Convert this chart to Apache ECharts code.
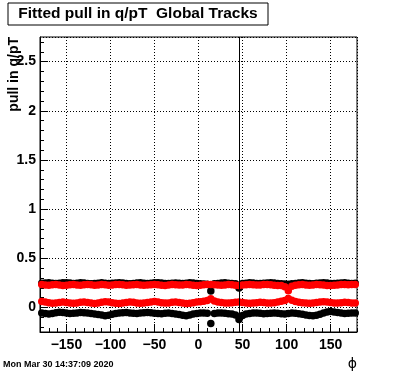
<!DOCTYPE html>
<html>
<head>
<meta charset="utf-8">
<script src="https://cdn.jsdelivr.net/npm/echarts@6/dist/echarts.min.js"></script>
<style>
  html, body { margin: 0; padding: 0; background: #fff; }
  #chart { width: 396px; height: 372px; }
</style>
</head>
<body>
<div id="chart"></div>
<script>
// phi bin centres (deg)
const phi = [
  -178, -174, -170, -166, -162, -158, -154, -150, -146, -142,
  -138, -134, -130, -126, -122, -118, -114, -110, -106, -102,
  -98, -94, -90, -86, -82, -78, -74, -70, -66, -62,
  -58, -54, -50, -46, -42, -38, -34, -30, -26, -22,
  -18, -14, -10, -6, -2, 2, 6, 10, 14, 18,
  22, 26, 30, 34, 38, 42, 46, 50, 54, 58,
  62, 66, 70, 74, 78, 82, 86, 90, 94, 98,
  102, 106, 110, 114, 118, 122, 126, 130, 134, 138,
  142, 146, 150, 154, 158, 162, 166, 170, 174, 178
]

// lower black points
const blackLow = [
  -0.057, -0.062, -0.067, -0.062, -0.054, -0.05, -0.052, -0.057, -0.062, -0.06,
  -0.056, -0.052, -0.054, -0.058, -0.062, -0.067, -0.072, -0.077, -0.084, -0.08,
  -0.07, -0.062, -0.057, -0.054, -0.052, -0.056, -0.06, -0.062, -0.058, -0.054,
  -0.052, -0.055, -0.059, -0.062, -0.064, -0.06, -0.057, -0.062, -0.067, -0.072,
  -0.08, -0.084, -0.077, -0.067, -0.062, -0.058, -0.056, -0.06, -0.163, -0.062,
  -0.058, -0.056, -0.06, -0.064, -0.068, -0.077, -0.122, -0.082, -0.067, -0.062,
  -0.058, -0.056, -0.06, -0.064, -0.062, -0.059, -0.057, -0.06, -0.064, -0.067,
  -0.062, -0.058, -0.06, -0.064, -0.07, -0.076, -0.082, -0.084, -0.08, -0.07,
  -0.057, -0.047, -0.042, -0.046, -0.052, -0.057, -0.062, -0.06, -0.056, -0.057
]

// lower red points
const redLow = [
  0.06, 0.055, 0.048, 0.042, 0.045, 0.05, 0.055, 0.05, 0.045, 0.042,
  0.046, 0.052, 0.056, 0.05, 0.044, 0.04, 0.045, 0.052, 0.058, 0.055,
  0.048, 0.042, 0.04, 0.044, 0.05, 0.055, 0.052, 0.046, 0.042, 0.045,
  0.05, 0.056, 0.06, 0.055, 0.048, 0.044, 0.046, 0.052, 0.056, 0.05,
  0.044, 0.04, 0.042, 0.048, 0.054, 0.058, 0.062, 0.07, 0.088, 0.065,
  0.055, 0.05, 0.046, 0.044, 0.048, 0.052, 0.055, 0.05, 0.045, 0.042,
  0.044, 0.048, 0.052, 0.05, 0.046, 0.044, 0.048, 0.055, 0.062, 0.07,
  0.09, 0.072, 0.06, 0.052, 0.048, 0.045, 0.042, 0.045, 0.05, 0.055,
  0.058, 0.055, 0.05, 0.046, 0.044, 0.048, 0.052, 0.05, 0.046, 0.045
]

// upper red points
const redHigh = [
  0.232, 0.228, 0.225, 0.23, 0.234, 0.228, 0.222, 0.226, 0.23, 0.232,
  0.228, 0.225, 0.23, 0.233, 0.23, 0.226, 0.228, 0.232, 0.23, 0.226,
  0.228, 0.232, 0.234, 0.23, 0.226, 0.228, 0.231, 0.233, 0.229, 0.225,
  0.228, 0.231, 0.234, 0.23, 0.226, 0.224, 0.228, 0.232, 0.23, 0.227,
  0.229, 0.232, 0.23, 0.226, 0.222, 0.225, 0.23, 0.232, 0.234, 0.23,
  0.228, 0.225, 0.228, 0.232, 0.23, 0.226, 0.224, 0.228, 0.231, 0.233,
  0.23, 0.227, 0.229, 0.232, 0.234, 0.23, 0.226, 0.224, 0.222, 0.21,
  0.17, 0.215, 0.226, 0.23, 0.232, 0.228, 0.225, 0.228, 0.232, 0.23,
  0.227, 0.224, 0.222, 0.225, 0.228, 0.232, 0.234, 0.23, 0.232, 0.234
]

// upper black points (mostly hidden under the red ones)
const blackHigh = [
  0.245, 0.248, 0.25, 0.246, 0.242, 0.245, 0.25, 0.252, 0.248, 0.244,
  0.246, 0.25, 0.248, 0.244, 0.24, 0.243, 0.247, 0.25, 0.246, 0.242,
  0.245, 0.249, 0.252, 0.248, 0.244, 0.241, 0.244, 0.248, 0.25, 0.247,
  0.243, 0.246, 0.25, 0.252, 0.248, 0.244, 0.242, 0.245, 0.249, 0.246,
  0.243, 0.247, 0.25, 0.248, 0.244, 0.24, 0.238, 0.236, 0.166, 0.24,
  0.244, 0.248, 0.25, 0.247, 0.243, 0.24, 0.197, 0.242, 0.246, 0.25,
  0.248, 0.244, 0.242, 0.245, 0.249, 0.252, 0.248, 0.244, 0.241, 0.238,
  0.236, 0.24, 0.244, 0.248, 0.25, 0.247, 0.243, 0.241, 0.245, 0.249,
  0.251, 0.248, 0.244, 0.242, 0.245, 0.248, 0.25, 0.247, 0.244, 0.246
]

const cutPhi = 46

const yMinorTicks = []
for (let k = -2; k <= 27; k++) yMinorTicks.push(k / 10)

const FONT = 'Liberation Sans'

function pairs(vals){
  return vals.map((v, i) => [phi[i], v])
}

function points(name, vals, color){
  return {
    name: name,
    type: 'scatter',
    silent: true,
    symbol: 'circle',
    symbolSize: 7.5,
    itemStyle: { color: color, opacity: 1 },
    data: pairs(vals)
  }
}

var myChart = echarts.init(document.getElementById('chart'), null, { renderer: 'canvas' })

const dotted = { color: '#000', width: 1, type: [1, 2] }

const option = {
  animation: false,
  backgroundColor: '#fff',
  grid: {
    left: 40,
    right: 39,
    top: 37,
    bottom: 40,
    show: true,
    borderColor: '#000',
    borderWidth: 1,
    outerBoundsMode: 'none'
  },
  xAxis: [
    {
      type: 'value',
      min: -180,
      max: 180,
      splitNumber: 7,
      minInterval: 50,
      maxInterval: 50,
      axisLine: { show: true, onZero: false, lineStyle: { color: '#000', width: 1 } },
      axisTick: { show: true, inside: true, length: 8, lineStyle: { color: '#000' } },
      axisLabel: {
        show: true,
        margin: 6,
        showMinLabel: false,
        showMaxLabel: false,
        color: '#000',
        fontFamily: FONT,
        fontWeight: 'bold',
        fontSize: 14,
        formatter(v){
          return String(v).replace('-', '\u2212')
        }
      },
      splitLine: { show: true, lineStyle: dotted }
    },
    {
      type: 'value',
      min: -180,
      max: 180,
      interval: 10,
      position: 'bottom',
      axisLine: { show: false, onZero: false },
      axisTick: { show: true, inside: true, length: 4, lineStyle: { color: '#000' } },
      axisLabel: { show: false },
      splitLine: { show: false }
    }
  ],
  yAxis: [
    {
      type: 'value',
      min: -0.25,
      max: 2.75,
      splitNumber: 6,
      minInterval: 0.5,
      maxInterval: 0.5,
      axisLine: { show: true, onZero: false, lineStyle: { color: '#000', width: 1 } },
      axisTick: { show: true, inside: true, length: 8, lineStyle: { color: '#000' } },
      axisLabel: {
        show: true,
        margin: 4,
        showMinLabel: false,
        showMaxLabel: false,
        color: '#000',
        fontFamily: FONT,
        fontWeight: 'bold',
        fontSize: 14
      },
      splitLine: { show: true, lineStyle: dotted }
    },
    {
      type: 'value',
      min: -0.25,
      max: 2.75,
      position: 'left',
      axisLine: { show: false, onZero: false },
      axisTick: { show: true, inside: true, length: 4, customValues: yMinorTicks, lineStyle: { color: '#000' } },
      axisLabel: { show: false },
      splitLine: { show: false }
    }
  ],
  series: [
    Object.assign(points('black high', blackHigh, '#000'), {
      markLine: {
        silent: true,
        symbol: ['none', 'none'],
        label: { show: false },
        lineStyle: { color: '#000', type: 'solid', width: 1 },
        data: [{ xAxis: cutPhi }]
      }
    }),
    points('red high', redHigh, '#ff0000'),
    points('black low', blackLow, '#000'),
    points('red low', redLow, '#ff0000')
  ],
  graphic: [
    {
      type: 'rect',
      shape: { x: 8, y: 3, width: 260, height: 22 },
      style: { fill: '#fff', stroke: '#000', lineWidth: 1 },
      z: 100
    },
    {
      type: 'text',
      x: 138,
      y: 14,
      z: 101,
      style: {
        text: 'Fitted pull in q/pT  Global Tracks',
        font: 'bold 15.5px "Liberation Sans"',
        fill: '#000',
        align: 'center',
        verticalAlign: 'middle'
      }
    },
    {
      type: 'text',
      x: 14,
      y: 37,
      rotation: Math.PI / 2,
      z: 101,
      style: {
        text: 'pull in q/pT',
        font: 'bold 14px "Liberation Sans"',
        fill: '#000',
        align: 'right',
        verticalAlign: 'middle'
      }
    },
    {
      type: 'text',
      x: 357,
      y: 364,
      z: 101,
      style: {
        text: '\u03d5',
        font: '14px "DejaVu Sans"',
        fill: '#000',
        align: 'right',
        verticalAlign: 'middle'
      }
    },
    {
      type: 'text',
      x: 3,
      y: 365,
      z: 101,
      style: {
        text: 'Mon Mar 30 14:37:09 2020',
        font: 'bold 9px "Liberation Sans"',
        fill: '#000',
        align: 'left',
        verticalAlign: 'middle'
      }
    }
  ]
}

myChart.setOption(option)
</script>
</body>
</html>
